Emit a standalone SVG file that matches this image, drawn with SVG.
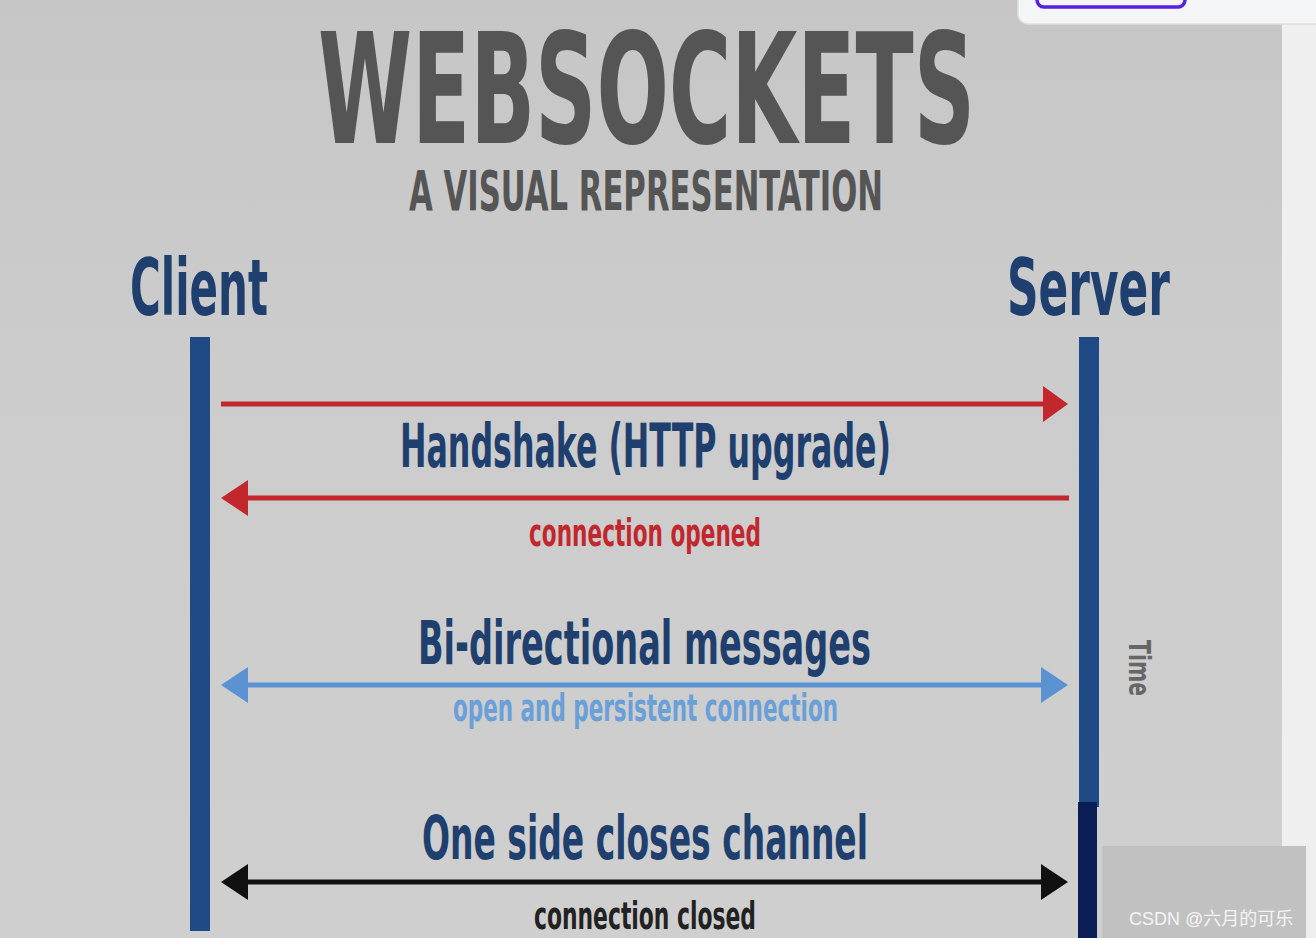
<svg xmlns="http://www.w3.org/2000/svg" width="1316" height="938" viewBox="0 0 1316 938">
<style>
.t{font-family:"Liberation Sans Narrow","DejaVu Sans Condensed","Liberation Sans",sans-serif;font-weight:bold;}
.navy{fill:#1f3f6e;}
.life{fill:#1f4a85;}
</style>
<defs>
<linearGradient id="bg" x1="0" y1="0" x2="0" y2="1">
<stop offset="0" stop-color="#c6c6c6"/>
<stop offset="0.4" stop-color="#cccccc"/>
<stop offset="1" stop-color="#cfcfcf"/>
</linearGradient>
</defs>
<rect x="0" y="0" width="1316" height="938" fill="#efefef"/>
<rect x="0" y="0" width="1282" height="938" fill="url(#bg)"/>
<rect x="1018" y="-12" width="310" height="36" rx="10" fill="#f4f5f7" stroke="#dfe0e3" stroke-width="1.5"/>
<rect x="1037" y="-12" width="148" height="19" rx="7" fill="none" stroke="#5421e4" stroke-width="3.5"/>

<g id="title">
<text class="t" x="318" y="143" font-size="154" fill="#555555" textLength="657" lengthAdjust="spacingAndGlyphs">WEBSOCKETS</text>
<text class="t" x="409" y="210" font-size="56" fill="#555555" textLength="474" lengthAdjust="spacingAndGlyphs">A VISUAL REPRESENTATION</text>
</g>

<g id="client">
<text class="t navy" x="130" y="315" font-size="79" textLength="138" lengthAdjust="spacingAndGlyphs">Client</text>
<rect class="life" x="190" y="337" width="20" height="594"/>
</g>
<g id="server">
<text class="t navy" x="1007" y="315" font-size="79" textLength="163" lengthAdjust="spacingAndGlyphs">Server</text>
<rect class="life" x="1079" y="337" width="20" height="470"/>
<rect x="1078" y="802" width="19" height="136" fill="#0a1d55"/>
</g>

<g id="connectors">
<line x1="221" y1="404" x2="1046" y2="404" stroke="#c1272d" stroke-width="5"/>
<polygon points="1068,404 1043,386 1043,422" fill="#c1272d"/>
<line x1="244" y1="498" x2="1069" y2="498" stroke="#c1272d" stroke-width="5"/>
<polygon points="221,498 248,480 248,516" fill="#c1272d"/>
<line x1="244" y1="685" x2="1046" y2="685" stroke="#5b93d2" stroke-width="5"/>
<polygon points="221,685 248,667 248,703" fill="#5b93d2"/>
<polygon points="1068,685 1041,667 1041,703" fill="#5b93d2"/>
<line x1="244" y1="882" x2="1046" y2="882" stroke="#111111" stroke-width="5"/>
<polygon points="221,882 248,864 248,900" fill="#111111"/>
<polygon points="1068,882 1041,864 1041,900" fill="#111111"/>
</g>

<g id="handshake">
<text class="t navy" x="400" y="467" font-size="60" textLength="491" lengthAdjust="spacingAndGlyphs">Handshake (HTTP upgrade)</text>
<text class="t" x="529" y="546" font-size="37" fill="#c1272d" textLength="232" lengthAdjust="spacingAndGlyphs">connection opened</text>
</g>
<g id="messages">
<text class="t navy" x="418" y="664" font-size="60" textLength="453" lengthAdjust="spacingAndGlyphs">Bi-directional messages</text>
<text class="t" x="453" y="721" font-size="37" fill="#6a9fd8" textLength="385" lengthAdjust="spacingAndGlyphs">open and persistent connection</text>
</g>
<g id="close">
<text class="t navy" x="422" y="859" font-size="61" textLength="446" lengthAdjust="spacingAndGlyphs">One side closes channel</text>
<text class="t" x="534" y="929" font-size="37" fill="#222222" textLength="222" lengthAdjust="spacingAndGlyphs">connection closed</text>
</g>
<g id="time">
<text class="t" transform="translate(1129,668) rotate(90)" x="0" y="0" font-size="31" fill="#666666" text-anchor="middle" textLength="56" lengthAdjust="spacingAndGlyphs">Time</text>
</g>

<g id="watermark">
<rect x="1102" y="846" width="204" height="92" fill="#c1c1c1"/>
<text x="1129" y="925" font-family="'Liberation Sans','Noto Sans CJK SC',sans-serif" font-size="18" fill="#f4f4f4">CSDN @六月的可乐</text>
</g>
</svg>
